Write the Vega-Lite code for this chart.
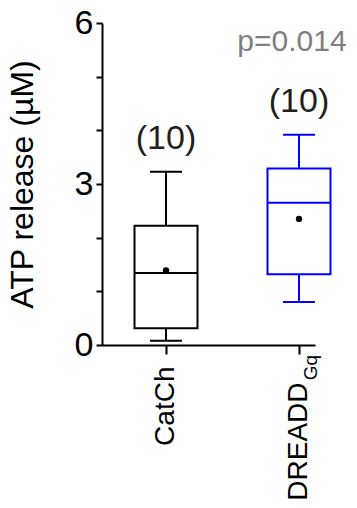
{
  "$schema": "https://vega.github.io/schema/vega-lite/v6.json",
  "autosize": {"type": "none"},
  "padding": {"left": 102, "top": 23, "right": 42, "bottom": 163},
  "width": 213,
  "height": 322,
  "background": "white",
  "config": {
    "view": {"stroke": null},
    "font": "Liberation Sans",
    "axis": {"grid": false, "domainColor": "black", "tickColor": "black", "labelColor": "black", "titleColor": "black", "domainWidth": 2, "tickWidth": 2, "labelFont": "Liberation Sans", "titleFont": "Liberation Sans", "titleFontWeight": "normal"}
  },
  "data": {
    "values": [
      {"group": "CatCh", "min": 0.08, "q1": 0.31, "median": 1.34, "q3": 2.22, "max": 3.23, "mean": 1.39, "n": "(10)"},
      {"group": "DREADD", "min": 0.80, "q1": 1.32, "median": 2.65, "q3": 3.29, "max": 3.92, "mean": 2.35, "n": "(10)"}
    ]
  },
  "encoding": {
    "x": {
      "field": "group", "type": "nominal", "sort": ["CatCh", "DREADD"],
      "scale": {"domain": ["CatCh", "DREADD"], "paddingInner": 0.7594, "paddingOuter": 0.1805, "align": 1},
      "axis": {
        "title": null, "labelAngle": -90, "labelFontSize": 28, "tickSize": 9,
        "labelPadding": {"condition": {"test": "datum.value == 'DREADD'", "value": 28}, "value": 12}
      }
    }
  },
  "layer": [
    {
      "mark": {"type": "rule", "strokeWidth": 2},
      "encoding": {
        "y": {"field": "q3", "type": "quantitative", "scale": {"domain": [0, 6], "nice": false},
          "axis": {"title": "ATP release (µM)", "titleFontSize": 32, "labelFontSize": 34, "format": "d", "values": [0, 1, 2, 3, 4, 5, 6], "labelExpr": "datum.value % 3 == 0 ? datum.label : ''", "tickSize": 6, "labelPadding": 3, "titlePadding": 35}},
        "y2": {"field": "max"},
        "color": {"field": "group", "type": "nominal", "scale": {"domain": ["CatCh", "DREADD"], "range": ["#000000", "#0000ff"]}, "legend": null}
      }
    },
    {
      "mark": {"type": "rule", "strokeWidth": 2},
      "encoding": {
        "y": {"field": "min", "type": "quantitative"},
        "y2": {"field": "q1"},
        "color": {"field": "group", "type": "nominal", "legend": null}
      }
    },
    {
      "mark": {"type": "bar", "size": 63, "fill": "white", "strokeWidth": 2},
      "encoding": {
        "y": {"field": "q1", "type": "quantitative"},
        "y2": {"field": "q3"},
        "stroke": {"field": "group", "type": "nominal", "scale": {"domain": ["CatCh", "DREADD"], "range": ["#000000", "#0000ff"]}, "legend": null}
      }
    },
    {
      "mark": {"type": "tick", "size": 63, "thickness": 2, "opacity": 1},
      "encoding": {
        "y": {"field": "median", "type": "quantitative"},
        "color": {"field": "group", "type": "nominal", "legend": null}
      }
    },
    {
      "mark": {"type": "tick", "size": 32, "thickness": 2, "opacity": 1},
      "encoding": {
        "y": {"field": "max", "type": "quantitative"},
        "color": {"field": "group", "type": "nominal", "legend": null}
      }
    },
    {
      "mark": {"type": "tick", "size": 32, "thickness": 2, "opacity": 1},
      "encoding": {
        "y": {"field": "min", "type": "quantitative"},
        "color": {"field": "group", "type": "nominal", "legend": null}
      }
    },
    {
      "mark": {"type": "point", "filled": true, "size": 40, "color": "black", "opacity": 1},
      "encoding": {
        "y": {"field": "mean", "type": "quantitative"}
      }
    },
    {
      "mark": {"type": "text", "fontSize": 34, "baseline": "middle", "dy": -33, "color": "#231f20"},
      "encoding": {
        "y": {"field": "max", "type": "quantitative"},
        "text": {"field": "n"}
      }
    },
    {
      "data": {"values": [{"group": "DREADD", "label": "p=0.014"}]},
      "mark": {"type": "text", "fontSize": 30, "baseline": "middle", "dx": -7, "color": "#7f7f7f"},
      "encoding": {
        "y": {"datum": 5.65, "type": "quantitative"},
        "text": {"field": "label"}
      }
    },
    {
      "data": {"values": [{"group": "DREADD", "sub": "Gq"}]},
      "mark": {"type": "text", "fontSize": 19, "angle": 270, "align": "right", "baseline": "middle", "dx": -10, "dy": 12, "color": "black"},
      "encoding": {
        "y": {"datum": 0, "type": "quantitative"},
        "text": {"field": "sub"}
      }
    }
  ]
}
